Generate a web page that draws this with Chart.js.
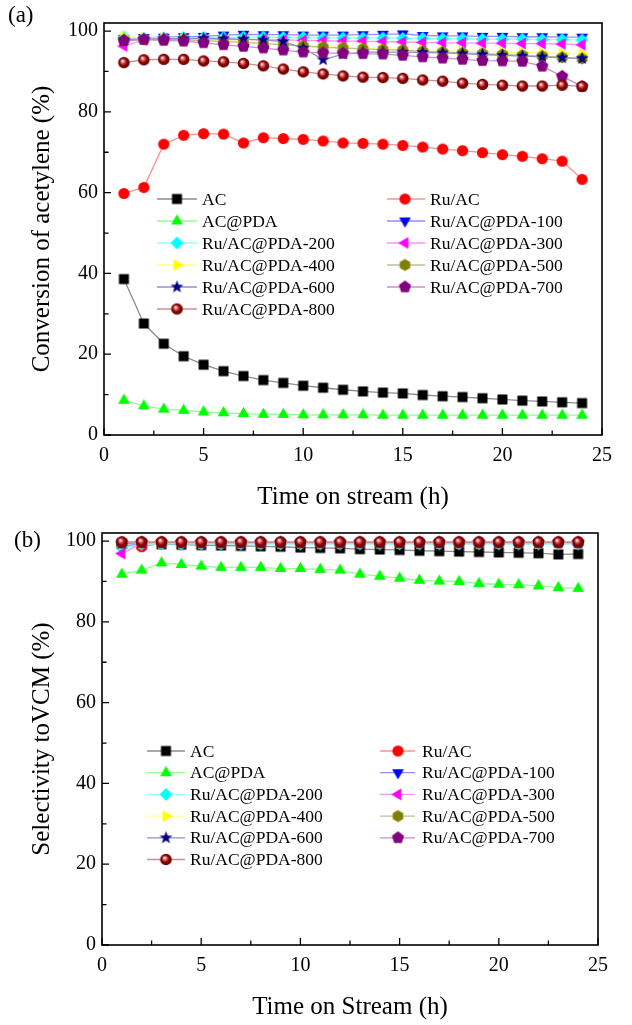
<!DOCTYPE html>
<html>
<head>
<meta charset="UTF-8">
<title>Conversion and selectivity</title>
<script src="https://cdn.jsdelivr.net/npm/chart.js"></script>
<style>
  body { margin: 0; background: #fff; }
  .panel { position: relative; width: 632px; }
  canvas { display: block; }
</style>
</head>
<body>
<div class="panel"><canvas id="chartA" width="632" height="512"></canvas></div>
<div class="panel"><canvas id="chartB" width="632" height="513"></canvas></div>

<script>
// time on stream (h)
var hours = [1, 2, 3, 4, 5, 6, 7, 8, 9, 10, 11, 12, 13, 14, 15, 16, 17, 18, 19, 20, 21, 22, 23, 24];

var seriesNames = ['AC', 'Ru/AC', 'AC@PDA', 'Ru/AC@PDA-100', 'Ru/AC@PDA-200', 'Ru/AC@PDA-300',
    'Ru/AC@PDA-400', 'Ru/AC@PDA-500', 'Ru/AC@PDA-600', 'Ru/AC@PDA-700', 'Ru/AC@PDA-800'];

var xTicks = [0, 5, 10, 15, 20, 25];
var yTicks = [0, 20, 40, 60, 80, 100];

// (a) conversion of acetylene (%)
var convAC     = [38.6, 27.6, 22.6, 19.5, 17.4, 15.8, 14.6, 13.6, 12.9, 12.2, 11.7, 11.2, 10.8, 10.5, 10.3, 9.9, 9.6, 9.4, 9.1, 8.8, 8.5, 8.3, 8.1, 7.9];
var convRuAC   = [59.8, 61.3, 72.0, 74.2, 74.6, 74.5, 72.3, 73.6, 73.4, 73.2, 72.8, 72.3, 72.2, 72.0, 71.7, 71.3, 70.8, 70.4, 69.9, 69.4, 69.0, 68.4, 67.8, 63.3];
var convACPDA  = [8.6, 7.2, 6.4, 6.1, 5.7, 5.5, 5.3, 5.1, 5.1, 5.0, 5.0, 5.0, 5.0, 4.9, 4.9, 4.9, 4.9, 4.9, 4.9, 4.9, 4.9, 4.9, 4.9, 4.9];
var conv100    = [98.2, 98.4, 98.5, 98.6, 98.7, 99.0, 99.2, 99.1, 99.1, 99.0, 99.0, 99.0, 99.1, 99.2, 99.3, 98.9, 98.8, 98.8, 98.7, 98.7, 98.6, 98.6, 98.5, 98.5];
var conv200    = [98.5, 98.2, 98.3, 98.4, 98.4, 98.4, 98.5, 98.5, 98.4, 98.4, 98.3, 98.3, 98.3, 98.3, 98.2, 98.2, 98.1, 98.1, 98.0, 98.0, 98.0, 97.9, 97.9, 97.8];
var conv300    = [96.3, 97.8, 98.0, 98.1, 98.0, 97.9, 97.9, 97.9, 97.8, 97.7, 97.6, 97.5, 97.5, 97.4, 97.3, 97.2, 97.1, 97.1, 97.0, 97.0, 96.9, 96.9, 96.8, 96.6];
var conv400    = [98.6, 98.3, 98.2, 98.0, 97.8, 97.6, 97.3, 97.0, 96.7, 96.4, 96.2, 96.0, 95.8, 95.6, 95.4, 95.3, 95.2, 95.0, 94.9, 94.8, 94.7, 94.6, 94.5, 94.3];
var conv500    = [97.8, 97.9, 97.9, 97.8, 97.6, 97.4, 97.2, 96.9, 96.6, 96.3, 96.0, 95.8, 95.6, 95.4, 95.3, 95.0, 94.8, 94.6, 94.4, 94.2, 94.0, 93.8, 93.5, 93.2];
var conv600    = [97.8, 98.0, 98.1, 98.1, 98.2, 98.1, 98.0, 97.8, 97.4, 95.8, 92.9, 94.3, 94.8, 94.8, 94.8, 94.7, 94.6, 94.4, 94.2, 94.0, 93.8, 93.6, 93.4, 93.2];
var conv700    = [97.6, 97.9, 97.7, 97.5, 97.1, 96.6, 96.2, 95.8, 95.3, 94.8, 94.6, 94.5, 94.4, 94.3, 94.0, 93.6, 93.3, 93.0, 92.7, 92.6, 92.5, 91.3, 88.8, 86.3];
var conv800    = [92.2, 92.9, 93.0, 93.0, 92.6, 92.4, 92.0, 91.4, 90.6, 89.9, 89.4, 88.9, 88.6, 88.5, 88.3, 87.9, 87.6, 87.1, 86.8, 86.6, 86.4, 86.4, 86.6, 86.3];

// (b) selectivity to VCM (%)
var selAC      = [99.4, 99.3, 99.2, 99.1, 99.0, 98.9, 98.8, 98.7, 98.6, 98.4, 98.3, 98.2, 98.0, 97.9, 97.8, 97.6, 97.5, 97.4, 97.3, 97.2, 97.1, 97.0, 96.7, 96.8];
var selRuAC    = [98.9, 98.6, 99.5, 99.5, 99.5, 99.5, 99.5, 99.5, 99.5, 99.5, 99.5, 99.5, 99.5, 99.5, 99.5, 99.5, 99.5, 99.5, 99.5, 99.5, 99.5, 99.5, 99.5, 99.5];
var selACPDA   = [91.8, 92.8, 94.6, 94.2, 93.8, 93.5, 93.5, 93.5, 93.2, 93.2, 93.0, 92.8, 91.8, 91.3, 90.8, 90.3, 90.1, 90.0, 89.5, 89.3, 89.2, 88.9, 88.5, 88.3];
var sel100     = [98.7, 99.4, 99.4, 99.4, 99.4, 99.4, 99.4, 99.4, 99.4, 99.4, 99.4, 99.4, 99.4, 99.4, 99.4, 99.4, 99.4, 99.4, 99.4, 99.4, 99.4, 99.4, 99.4, 99.4];
var sel200     = [98.3, 99.2, 99.3, 99.3, 99.3, 99.3, 99.3, 99.3, 99.3, 99.3, 99.3, 99.3, 99.3, 99.3, 99.3, 99.3, 99.3, 99.3, 99.3, 99.3, 99.3, 99.3, 99.3, 99.3];
var sel300     = [96.9, 99.5, 99.6, 99.6, 99.6, 99.6, 99.6, 99.6, 99.6, 99.6, 99.6, 99.6, 99.6, 99.6, 99.6, 99.6, 99.6, 99.6, 99.6, 99.6, 99.6, 99.6, 99.6, 99.6];
var sel400     = [99.3, 99.5, 99.5, 99.5, 99.5, 99.5, 99.5, 99.5, 99.5, 99.5, 99.5, 99.5, 99.5, 99.5, 99.5, 99.5, 99.5, 99.5, 99.5, 99.5, 99.5, 99.5, 99.5, 99.5];
var sel500     = [99.5, 99.6, 99.6, 99.6, 99.6, 99.6, 99.6, 99.6, 99.6, 99.6, 99.6, 99.6, 99.6, 99.6, 99.6, 99.6, 99.6, 99.6, 99.6, 99.6, 99.6, 99.6, 99.6, 99.6];
var sel600     = [99.4, 99.6, 99.6, 99.6, 99.6, 99.6, 99.6, 99.6, 99.6, 99.6, 99.6, 99.6, 99.6, 99.6, 99.6, 99.6, 99.6, 99.6, 99.6, 99.6, 99.6, 99.6, 99.6, 99.6];
var sel700     = [99.6, 99.7, 99.7, 99.7, 99.7, 99.7, 99.7, 99.7, 99.7, 99.7, 99.7, 99.7, 99.7, 99.7, 99.7, 99.7, 99.7, 99.7, 99.7, 99.7, 99.7, 99.7, 99.7, 99.7];
var sel800     = [99.8, 99.8, 99.8, 99.8, 99.8, 99.8, 99.8, 99.8, 99.8, 99.8, 99.8, 99.8, 99.8, 99.8, 99.8, 99.8, 99.8, 99.8, 99.8, 99.8, 99.8, 99.8, 99.8, 99.8];

var markerShapes = ['square', 'circle', 'up', 'down', 'diamond', 'left', 'right', 'hexagon', 'star', 'pentagon', 'ball'];
var markerColors = ['#000000', '#ff0000', '#00ff00', '#0000ff', '#00ffff', '#ff00ff', '#ffff00', '#808000', '#000080', '#800080', '#800000'];
var lineColors   = ['#8c8c8c', '#ff9090', '#90ff90', '#9090ff', '#90ffff', '#ff90ff', '#ffff90', '#c0c090', '#9090c8', '#c890c8', '#c89090'];

var serif = '"Liberation Serif", "Times New Roman", serif';

// marker pictures (also used for legend)
function makeMarker(shape, color) {
    var size = 15;
    var c = document.createElement('canvas');
    c.width = size; c.height = size;
    var g = c.getContext('2d');
    var m = size / 2;
    function poly(n, r, start, inner) {
        g.beginPath();
        var steps = inner ? n * 2 : n;
        for (var i = 0; i < steps; i++) {
            var a = start + i * 2 * Math.PI / steps;
            var rr = inner && i % 2 == 1 ? inner : r;
            var px = m + rr * Math.cos(a), py = m + rr * Math.sin(a);
            if (i == 0) g.moveTo(px, py); else g.lineTo(px, py);
        }
        g.closePath();
    }
    g.fillStyle = color;
    var deg = Math.PI / 180;
    if (shape == 'square') { g.beginPath(); g.rect(m - 5, m - 5, 10, 10); }
    else if (shape == 'circle') { g.beginPath(); g.arc(m, m, 5.6, 0, 2 * Math.PI); }
    else if (shape == 'up') poly(3, 6.8, -90 * deg);
    else if (shape == 'down') poly(3, 6.8, 90 * deg);
    else if (shape == 'left') poly(3, 6.8, 180 * deg);
    else if (shape == 'right') poly(3, 6.8, 0);
    else if (shape == 'diamond') poly(4, 6.4, -90 * deg);
    else if (shape == 'hexagon') poly(6, 6.0, -90 * deg);
    else if (shape == 'pentagon') poly(5, 6.4, -90 * deg);
    else if (shape == 'star') poly(5, 6.8, -90 * deg, 2.8);
    else if (shape == 'ball') {
        var grad = g.createRadialGradient(m - 1.6, m - 1.8, 0.3, m, m, 5.8);
        grad.addColorStop(0, '#ffffff');
        grad.addColorStop(0.25, '#e07070');
        grad.addColorStop(0.6, '#900000');
        grad.addColorStop(1, '#600000');
        g.fillStyle = grad;
        g.beginPath(); g.arc(m, m, 5.8, 0, 2 * Math.PI);
    }
    g.fill();
    return c;
}

var markers = markerShapes.map(function (s, i) { return makeMarker(s, markerColors[i]); });

function buildDatasets(valueLists) {
    return valueLists.map(function (vals, i) {
        return {
            label: seriesNames[i],
            data: hours.map(function (h, k) { return { x: h, y: vals[k] }; }),
            borderColor: lineColors[i],
            backgroundColor: markerColors[i],
            borderWidth: 1.3,
            pointStyle: markers[i],
            pointRadius: 6,
            fill: false,
            tension: 0,
            order: valueLists.length - i
        };
    });
}

// frame, inward ticks, titles and legend
var frameLegend = {
    id: 'frameLegend',
    afterDraw: function (chart, args, o) {
        var ctx = chart.ctx, a = chart.chartArea;
        var xs = chart.scales.x, ys = chart.scales.y;
        ctx.save();
        ctx.strokeStyle = '#000';
        ctx.lineWidth = 1.6;
        ctx.strokeRect(a.left, a.top, a.right - a.left, a.bottom - a.top);

        ctx.lineWidth = 1.3;
        ctx.beginPath();
        for (var v = 0; v <= 25; v += 2.5) {
            var px = xs.getPixelForValue(v);
            var len = (v % 5 == 0) ? 7 : 4.5;
            ctx.moveTo(px, a.bottom); ctx.lineTo(px, a.bottom - len);
        }
        for (var w = 0; w <= 100; w += 10) {
            var py = ys.getPixelForValue(w);
            var l2 = (w % 20 == 0) ? 7 : 4.5;
            ctx.moveTo(a.left, py); ctx.lineTo(a.left + l2, py);
        }
        ctx.stroke();

        ctx.fillStyle = '#000';
        ctx.font = '25px ' + serif;
        ctx.textAlign = 'center';
        ctx.textBaseline = 'middle';
        ctx.fillText(o.xTitle, (a.left + a.right) / 2, o.xTitleY);
        ctx.save();
        ctx.translate(o.yTitleX, (a.top + a.bottom) / 2);
        ctx.rotate(-Math.PI / 2);
        ctx.fillText(o.yTitle, 0, 0);
        ctx.restore();

        ctx.font = '23px ' + serif;
        ctx.textAlign = 'left';
        ctx.fillText(o.panel, o.panelX, o.panelY);

        // legend, two columns
        ctx.font = '17.5px ' + serif;
        ctx.lineWidth = 1.3;
        for (var i = 0; i < seriesNames.length; i++) {
            var col = i % 2, row = Math.floor(i / 2);
            var c = o.cols[col];
            var y = o.rowTop + row * o.rowGap;
            ctx.strokeStyle = lineColors[i];
            ctx.beginPath();
            ctx.moveTo(c.x0, y); ctx.lineTo(c.x1, y);
            ctx.stroke();
            var mk = markers[i];
            ctx.drawImage(mk, c.sx - mk.width / 2, y - mk.height / 2);
            ctx.fillStyle = '#000';
            ctx.fillText(seriesNames[i], c.tx, y + 1);
        }
        ctx.restore();
    }
};

function makeChart(id, valueLists, box, opts) {
    var canvas = document.getElementById(id);
    var H = canvas.height;
    return new Chart(canvas, {
        type: 'line',
        data: { datasets: buildDatasets(valueLists) },
        options: {
            responsive: false,
            animation: false,
            devicePixelRatio: 1,
            layout: { padding: { left: 0, top: box.top, right: 632 - box.right, bottom: 0 } },
            plugins: { legend: { display: false }, tooltip: { enabled: false }, frameLegend: opts },
            scales: {
                x: {
                    type: 'linear', min: 0, max: 25,
                    afterFit: function (s) { s.height = H - box.bottom; },
                    afterBuildTicks: function (s) { s.ticks = xTicks.map(function (v) { return { value: v }; }); },
                    grid: { display: false, drawTicks: false },
                    border: { display: false },
                    ticks: { padding: 9, color: '#000', maxRotation: 0, font: { family: serif, size: 20 } }
                },
                y: {
                    min: 0, max: 102,
                    afterFit: function (s) { s.width = box.left; },
                    afterBuildTicks: function (s) { s.ticks = yTicks.map(function (v) { return { value: v }; }); },
                    grid: { display: false, drawTicks: false },
                    border: { display: false },
                    ticks: { padding: 6, color: '#000', font: { family: serif, size: 20 } }
                }
            }
        },
        plugins: [frameLegend]
    });
}

makeChart('chartA',
    [convAC, convRuAC, convACPDA, conv100, conv200, conv300, conv400, conv500, conv600, conv700, conv800],
    { left: 104, right: 602, top: 23, bottom: 435 },
    {
        panel: '(a)', panelX: 8, panelY: 16,
        xTitle: 'Time on stream (h)', xTitleY: 497,
        yTitle: 'Conversion of acetylene (%)', yTitleX: 42,
        rowTop: 199, rowGap: 22,
        cols: [{ x0: 157, x1: 197, sx: 177, tx: 202 }, { x0: 387, x1: 425, sx: 405, tx: 430 }]
    });

makeChart('chartB',
    [selAC, selRuAC, selACPDA, sel100, sel200, sel300, sel400, sel500, sel600, sel700, sel800],
    { left: 102, right: 598, top: 21, bottom: 433 },
    {
        panel: '(b)', panelX: 14, panelY: 29,
        xTitle: 'Time on Stream (h)', xTitleY: 495,
        yTitle: 'Selectivity toVCM (%)', yTitleX: 42,
        rowTop: 239, rowGap: 21.7,
        cols: [{ x0: 147, x1: 185, sx: 166, tx: 190 }, { x0: 380, x1: 415, sx: 398, tx: 422 }]
    });
</script>
</body>
</html>
